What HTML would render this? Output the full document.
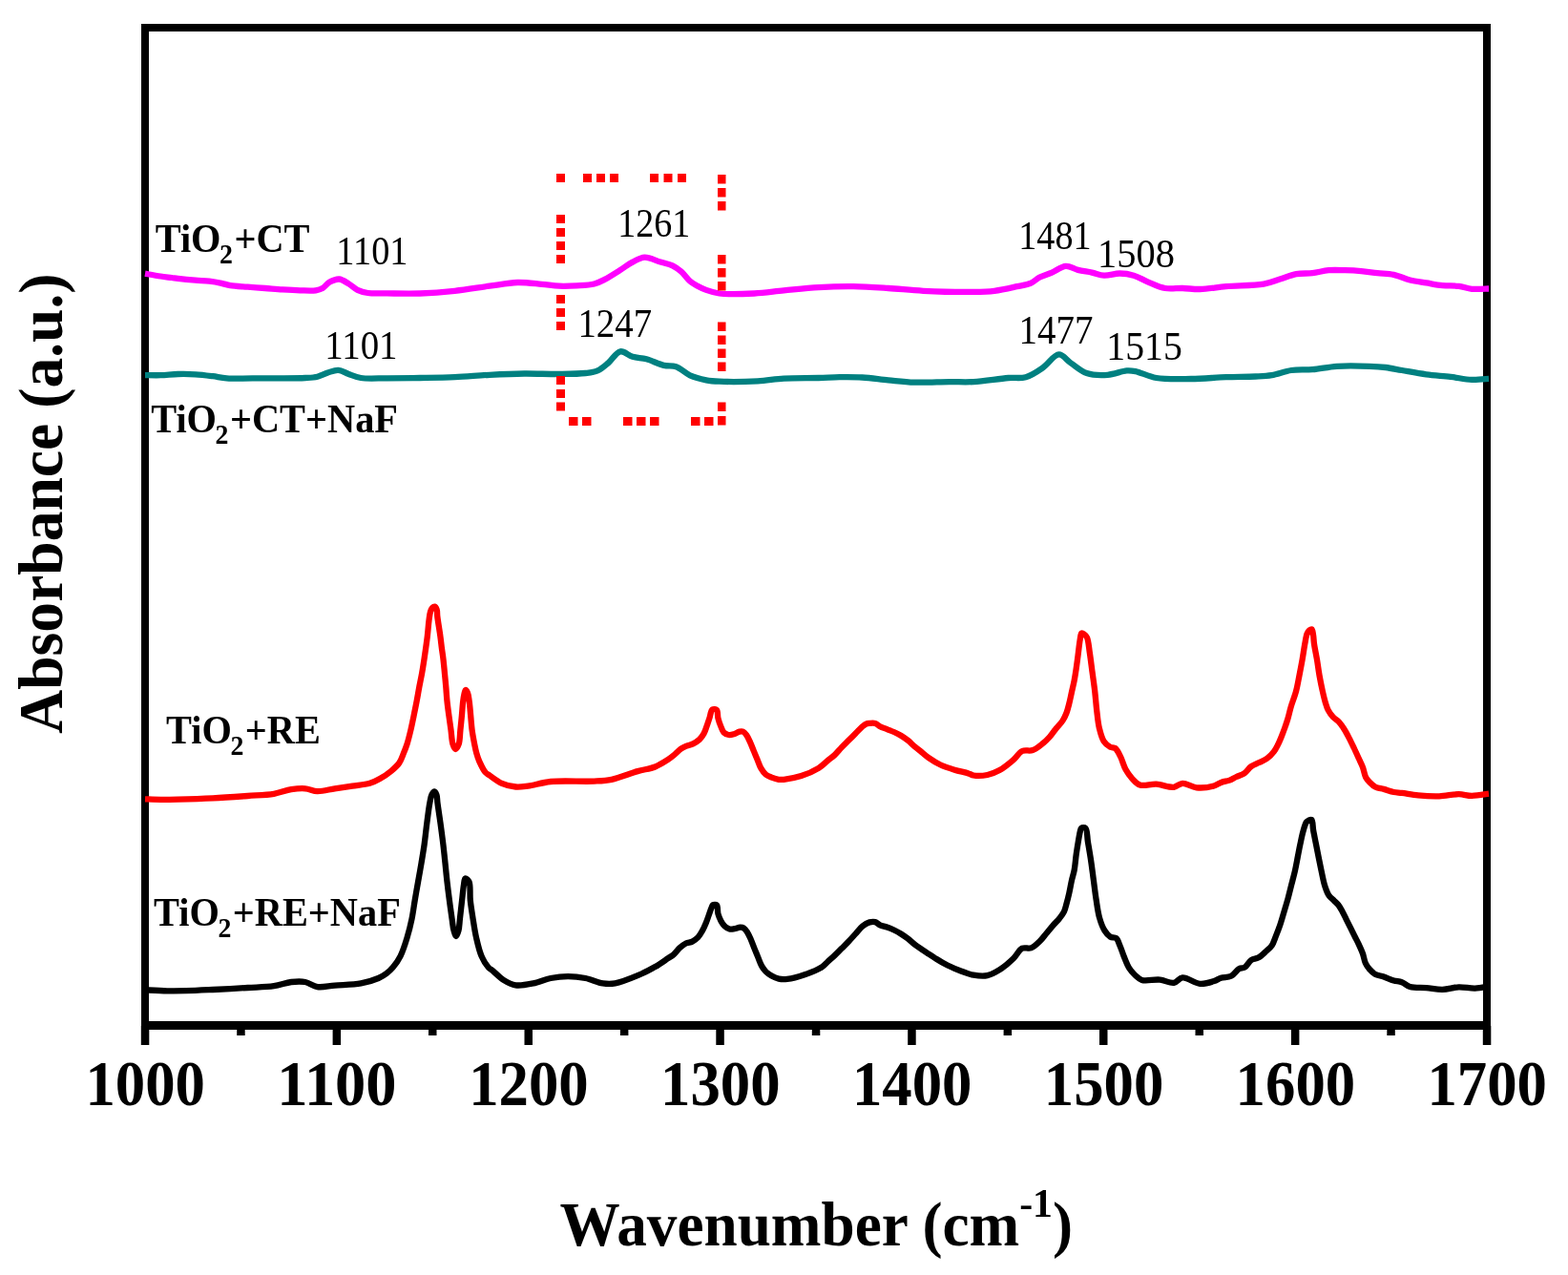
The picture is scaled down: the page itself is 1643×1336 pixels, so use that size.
<!DOCTYPE html><html><head><meta charset="utf-8"><style>html,body{margin:0;padding:0;background:#fff;overflow:hidden;width:1643px;height:1336px;}svg{display:block;}text{font-family:"Liberation Serif","Times New Roman",serif;}</style></head><body>
<svg width="1643" height="1336" viewBox="0 0 1643 1336">
<rect x="0" y="0" width="1643" height="1336" fill="#fff"/>
<rect x="148" y="25" width="1414" height="8" fill="#000"/>
<rect x="148" y="1070" width="1414" height="9" fill="#000"/>
<rect x="148" y="25" width="8" height="1054" fill="#000"/>
<rect x="1554" y="25" width="8" height="1054" fill="#000"/>
<rect x="147.8" y="1075" width="8.5" height="20" fill="#000"/>
<rect x="248.2" y="1075" width="8.5" height="10" fill="#000"/>
<rect x="348.6" y="1075" width="8.5" height="20" fill="#000"/>
<rect x="449.0" y="1075" width="8.5" height="10" fill="#000"/>
<rect x="549.5" y="1075" width="8.5" height="20" fill="#000"/>
<rect x="649.9" y="1075" width="8.5" height="10" fill="#000"/>
<rect x="750.3" y="1075" width="8.5" height="20" fill="#000"/>
<rect x="850.8" y="1075" width="8.5" height="10" fill="#000"/>
<rect x="951.2" y="1075" width="8.5" height="20" fill="#000"/>
<rect x="1051.6" y="1075" width="8.5" height="10" fill="#000"/>
<rect x="1152.0" y="1075" width="8.5" height="20" fill="#000"/>
<rect x="1252.5" y="1075" width="8.5" height="10" fill="#000"/>
<rect x="1352.9" y="1075" width="8.5" height="20" fill="#000"/>
<rect x="1453.3" y="1075" width="8.5" height="10" fill="#000"/>
<rect x="1553.8" y="1075" width="8.5" height="20" fill="#000"/>
<text transform="translate(89.48,1158.00) scale(0.6277,0.6667)" font-size="100" font-weight="bold" fill="#000">1000</text>
<text transform="translate(290.20,1158.00) scale(0.6448,0.6667)" font-size="100" font-weight="bold" fill="#000">1100</text>
<text transform="translate(491.19,1158.00) scale(0.6277,0.6667)" font-size="100" font-weight="bold" fill="#000">1200</text>
<text transform="translate(692.05,1158.00) scale(0.6277,0.6667)" font-size="100" font-weight="bold" fill="#000">1300</text>
<text transform="translate(892.91,1158.00) scale(0.6277,0.6667)" font-size="100" font-weight="bold" fill="#000">1400</text>
<text transform="translate(1093.76,1158.00) scale(0.6277,0.6667)" font-size="100" font-weight="bold" fill="#000">1500</text>
<text transform="translate(1294.62,1158.00) scale(0.6277,0.6667)" font-size="100" font-weight="bold" fill="#000">1600</text>
<text transform="translate(1495.48,1158.00) scale(0.6277,0.6667)" font-size="100" font-weight="bold" fill="#000">1700</text>
<path d="M152.00,286.70 C154.72,287.17 163.31,288.75 168.30,289.50 C172.52,290.13 176.67,290.56 180.00,291.00 C182.48,291.33 183.78,291.58 186.50,291.90 C191.05,292.44 199.04,293.24 204.80,293.70 C209.94,294.11 214.71,294.05 219.40,294.60 C223.82,295.11 228.31,295.96 232.20,296.80 C235.51,297.52 237.71,298.58 241.30,299.20 C246.29,300.06 253.42,300.23 259.50,300.70 C265.59,301.17 271.71,301.55 277.80,302.00 C283.88,302.45 289.92,303.02 296.00,303.40 C302.09,303.78 308.36,304.15 314.30,304.30 C319.94,304.44 326.47,304.98 330.80,304.30 C333.73,303.84 335.71,303.29 338.00,302.00 C340.61,300.54 342.56,297.18 345.40,295.60 C348.34,293.97 352.12,292.25 355.40,292.50 C358.79,292.76 362.20,295.52 365.40,297.40 C368.61,299.29 371.26,302.20 374.60,303.80 C377.96,305.41 381.26,306.35 385.50,307.00 C391.13,307.87 398.00,307.31 405.60,307.40 C415.54,307.51 428.37,307.91 440.00,307.50 C451.99,307.07 464.35,306.10 476.50,304.80 C488.69,303.50 501.51,301.23 513.00,299.70 C523.27,298.33 532.77,296.26 542.20,296.00 C551.00,295.75 560.00,297.12 567.80,297.80 C574.39,298.38 579.92,299.45 586.00,299.70 C592.08,299.95 598.21,299.67 604.30,299.30 C610.41,298.93 617.37,298.83 622.60,297.50 C626.79,296.43 629.57,294.91 633.50,292.90 C638.52,290.34 644.87,286.12 650.00,282.90 C654.56,280.04 658.42,276.83 662.80,274.60 C666.93,272.49 670.96,269.88 675.50,269.70 C680.61,269.50 686.86,273.09 692.00,274.60 C696.51,275.93 700.94,276.50 704.70,278.30 C708.16,279.95 710.98,282.14 713.90,284.70 C717.11,287.52 720.01,292.14 723.00,294.70 C725.36,296.71 727.40,297.86 730.00,299.30 C732.98,300.95 736.34,302.59 740.00,303.90 C744.15,305.39 747.97,306.76 753.70,307.50 C762.90,308.69 778.62,308.08 790.30,307.50 C801.08,306.96 810.54,305.42 821.30,304.40 C832.97,303.29 845.62,301.80 857.80,301.10 C869.96,300.40 882.14,300.05 894.30,300.20 C906.47,300.35 918.63,301.23 930.80,302.00 C943.00,302.77 954.09,304.15 967.40,304.80 C983.34,305.58 1006.25,306.10 1020.00,305.90 C1028.88,305.77 1034.49,305.70 1041.90,304.80 C1049.68,303.85 1058.66,301.72 1065.60,300.20 C1071.10,298.99 1076.12,298.44 1080.30,296.60 C1083.86,295.03 1086.00,292.26 1089.40,290.50 C1093.21,288.53 1097.83,287.45 1102.20,285.60 C1106.94,283.59 1112.05,279.09 1116.80,278.80 C1121.13,278.53 1125.07,281.78 1129.50,282.90 C1134.18,284.08 1139.49,284.59 1144.20,285.60 C1148.60,286.54 1152.37,288.46 1156.90,288.70 C1162.02,288.97 1168.07,286.45 1173.40,286.50 C1178.42,286.54 1183.23,287.29 1188.00,288.70 C1192.97,290.17 1197.43,293.18 1202.60,295.30 C1208.29,297.63 1214.63,300.90 1220.80,302.00 C1226.80,303.07 1233.00,301.83 1239.10,302.00 C1245.20,302.17 1250.70,303.16 1257.40,303.00 C1265.60,302.80 1274.76,301.02 1284.70,300.20 C1296.62,299.21 1313.77,299.55 1324.10,297.70 C1331.03,296.46 1335.43,294.35 1341.10,292.60 C1346.80,290.85 1352.44,288.28 1358.20,287.20 C1363.81,286.15 1369.55,286.76 1375.20,286.10 C1380.88,285.43 1386.50,283.68 1392.20,283.20 C1397.87,282.72 1403.61,283.05 1409.30,283.20 C1414.98,283.35 1420.63,283.62 1426.30,284.10 C1432.00,284.58 1437.71,285.48 1443.40,286.10 C1449.07,286.72 1454.79,286.60 1460.40,287.80 C1466.16,289.03 1471.75,292.06 1477.50,293.50 C1483.12,294.91 1488.83,295.47 1494.50,296.40 C1500.16,297.33 1505.81,298.52 1511.50,299.10 C1517.18,299.68 1523.25,299.21 1528.60,299.90 C1533.42,300.52 1537.33,302.33 1542.20,302.80 C1547.71,303.33 1557.03,302.55 1560.00,302.50" fill="none" stroke="#ff00ff" stroke-width="6.3" stroke-linejoin="round" stroke-linecap="butt"/>
<path d="M152.00,393.10 C154.72,393.12 162.72,393.37 168.30,393.20 C174.20,393.02 180.42,392.15 186.50,392.00 C192.59,391.85 198.72,391.93 204.80,392.30 C210.88,392.67 217.27,393.49 223.00,394.20 C228.14,394.84 231.51,395.86 237.60,396.30 C247.66,397.02 264.25,396.35 277.80,396.30 C291.65,396.25 309.85,396.54 319.80,396.00 C325.31,395.70 328.57,395.66 332.60,394.70 C336.44,393.78 339.82,391.66 343.50,390.50 C347.12,389.36 350.88,387.57 354.50,387.80 C358.18,388.03 361.60,390.68 365.40,392.00 C369.47,393.42 373.06,395.19 378.20,396.00 C385.55,397.16 395.95,396.29 405.60,396.30 C416.42,396.31 428.36,396.18 440.00,396.00 C451.99,395.82 464.34,395.73 476.50,395.20 C488.67,394.67 500.83,393.42 513.00,392.80 C525.16,392.18 537.33,391.63 549.50,391.50 C561.67,391.37 574.69,392.13 586.00,392.00 C595.82,391.89 606.11,391.88 613.50,391.00 C618.57,390.39 622.29,390.11 626.20,388.40 C630.20,386.65 633.50,383.57 637.20,380.50 C641.43,377.00 645.45,369.12 650.00,368.30 C654.04,367.57 658.31,372.47 662.80,373.80 C667.43,375.17 672.33,374.96 677.40,376.30 C683.20,377.83 689.99,381.62 695.60,382.90 C700.17,383.94 704.16,382.75 708.40,384.20 C713.30,385.88 717.78,390.96 723.00,393.30 C728.30,395.68 734.59,397.24 740.00,398.30 C744.77,399.24 747.92,399.43 753.70,399.70 C763.57,400.15 781.79,399.96 793.90,399.30 C803.92,398.76 811.50,397.16 821.30,396.60 C832.58,395.95 847.18,396.28 857.80,396.00 C866.03,395.78 872.25,395.29 879.70,395.20 C887.47,395.11 895.31,395.03 903.50,395.50 C912.30,396.01 921.69,397.45 930.80,398.30 C939.92,399.15 948.40,400.26 958.20,400.60 C969.49,401.00 983.64,400.18 994.70,400.10 C1003.90,400.04 1010.81,400.61 1020.00,400.10 C1031.07,399.48 1046.40,396.79 1056.50,396.00 C1063.63,395.44 1068.90,396.87 1074.80,395.20 C1081.09,393.42 1087.26,389.03 1093.00,385.10 C1098.83,381.11 1104.29,371.59 1109.50,371.40 C1113.95,371.24 1117.64,377.42 1122.20,380.50 C1127.30,383.94 1132.53,388.92 1138.70,391.00 C1145.24,393.20 1153.49,393.28 1160.60,392.80 C1167.48,392.34 1175.29,388.78 1180.70,388.40 C1184.30,388.15 1186.16,388.40 1189.80,389.10 C1195.57,390.22 1203.36,394.60 1211.70,396.00 C1222.22,397.77 1236.04,397.13 1248.20,397.00 C1260.37,396.87 1273.04,395.62 1284.70,395.20 C1295.43,394.81 1306.83,394.96 1315.60,394.50 C1322.11,394.16 1326.71,394.07 1332.60,393.10 C1339.16,392.02 1346.09,388.99 1353.10,388.00 C1360.28,386.99 1367.58,387.84 1375.20,387.20 C1383.44,386.51 1391.63,384.41 1400.80,383.80 C1411.33,383.10 1425.50,383.47 1434.90,383.80 C1441.55,384.03 1446.25,384.30 1451.90,385.00 C1457.58,385.70 1462.65,386.92 1468.90,388.00 C1476.56,389.32 1485.95,391.15 1494.50,392.30 C1503.01,393.45 1511.89,393.93 1520.10,394.90 C1527.75,395.81 1535.22,397.62 1542.20,397.90 C1548.44,398.15 1557.03,397.07 1560.00,396.90" fill="none" stroke="#008080" stroke-width="6.3" stroke-linejoin="round" stroke-linecap="butt"/>
<path d="M152.00,837.30 C154.72,837.38 162.72,837.75 168.30,837.80 C174.20,837.86 179.39,837.76 186.50,837.60 C196.57,837.38 210.84,837.00 223.00,836.40 C235.17,835.80 248.20,834.82 259.50,834.00 C269.32,833.28 278.83,833.15 287.00,831.80 C293.74,830.69 299.43,828.10 305.20,827.20 C310.30,826.41 315.12,825.94 319.80,826.30 C324.23,826.64 327.94,828.95 332.60,829.10 C338.12,829.27 344.72,827.22 350.80,826.30 C356.89,825.38 363.00,824.52 369.10,823.60 C375.20,822.68 382.22,822.34 387.40,820.80 C391.51,819.58 394.45,818.00 398.00,816.00 C401.97,813.77 406.50,810.71 410.00,807.80 C413.13,805.20 416.02,802.74 418.20,799.60 C420.40,796.42 421.66,792.26 423.10,788.80 C424.39,785.69 425.41,783.21 426.50,779.80 C427.87,775.49 429.22,769.89 430.40,764.90 C431.58,759.92 432.57,754.90 433.60,749.90 C434.63,744.90 435.65,739.90 436.60,734.90 C437.55,729.90 438.37,724.89 439.30,719.90 C440.23,714.92 441.32,709.98 442.20,705.00 C443.08,700.02 443.77,695.54 444.60,690.00 C445.62,683.13 446.95,674.01 447.80,666.90 C448.52,660.83 448.87,654.74 449.50,650.00 C449.96,646.52 450.23,643.36 451.00,641.00 C451.54,639.35 452.13,637.92 453.00,637.00 C453.70,636.27 454.76,635.44 455.50,635.60 C456.32,635.78 457.12,637.22 457.60,638.50 C458.30,640.35 457.92,642.88 458.30,646.00 C458.93,651.23 460.57,660.74 461.40,666.90 C462.06,671.77 462.47,675.93 463.00,680.00 C463.47,683.56 463.96,686.33 464.40,690.00 C464.94,694.49 465.42,700.01 465.90,705.00 C466.38,709.97 466.87,714.92 467.30,719.90 C467.73,724.89 467.98,729.91 468.50,734.90 C469.02,739.91 469.73,744.90 470.40,749.90 C471.07,754.90 471.82,759.91 472.50,764.90 C473.18,769.87 473.33,776.19 474.50,779.80 C475.23,782.06 476.28,784.96 477.30,785.00 C478.34,785.04 479.87,782.11 480.70,779.80 C481.99,776.22 481.87,769.88 482.40,764.90 C482.93,759.91 483.43,754.90 483.90,749.90 C484.37,744.90 484.67,739.10 485.20,734.90 C485.58,731.84 485.97,729.17 486.50,727.00 C486.88,725.42 487.19,723.10 487.80,723.00 C488.38,722.91 489.41,724.65 490.00,726.00 C490.92,728.11 491.21,731.54 491.70,734.90 C492.33,739.24 492.72,744.90 493.20,749.90 C493.68,754.90 493.93,759.92 494.60,764.90 C495.27,769.89 496.34,775.46 497.20,779.80 C497.87,783.18 498.36,785.81 499.20,788.80 C500.06,791.85 500.89,794.75 502.30,797.90 C503.95,801.60 506.58,807.03 508.80,809.50 C510.18,811.04 511.20,811.28 513.00,812.50 C516.09,814.60 521.22,818.80 525.80,820.80 C530.35,822.79 535.66,824.08 540.40,824.50 C544.77,824.89 548.30,824.24 553.20,823.60 C559.94,822.72 567.74,819.93 577.00,819.00 C589.70,817.73 610.84,819.23 622.60,818.60 C630.05,818.20 634.19,818.16 640.80,816.80 C649.08,815.09 659.95,810.44 668.20,808.10 C674.88,806.20 680.99,805.70 686.50,803.50 C691.49,801.51 696.46,798.21 700.00,795.90 C702.46,794.29 703.93,793.11 706.00,791.40 C708.41,789.41 711.02,786.29 713.50,784.60 C715.52,783.22 717.41,782.46 719.50,781.60 C721.64,780.72 724.04,780.46 726.20,779.40 C728.51,778.27 731.01,776.69 732.90,774.90 C734.72,773.17 736.16,771.10 737.40,768.90 C738.68,766.62 739.43,764.02 740.40,761.40 C741.44,758.57 742.39,755.47 743.40,752.50 C744.42,749.51 744.79,744.58 746.50,743.50 C747.68,742.75 749.99,743.04 751.00,744.00 C752.40,745.32 751.69,749.66 752.40,752.50 C753.14,755.46 754.30,758.76 755.40,761.40 C756.33,763.63 756.95,765.95 758.40,767.40 C759.75,768.75 761.81,769.70 763.60,770.00 C765.32,770.29 767.11,769.79 768.90,769.30 C770.88,768.75 773.11,767.07 774.90,766.70 C776.25,766.42 777.46,766.23 778.60,766.70 C779.96,767.26 781.17,768.84 782.30,770.40 C783.73,772.38 784.89,775.26 786.10,777.90 C787.40,780.74 788.55,783.90 789.80,786.90 C791.05,789.90 792.35,792.90 793.60,795.90 C794.85,798.90 795.74,802.21 797.30,804.90 C798.75,807.41 800.49,809.95 802.50,811.60 C804.28,813.06 806.35,813.75 808.50,814.60 C810.82,815.51 813.69,816.47 816.00,816.80 C817.90,817.07 819.02,817.03 821.30,816.80 C825.57,816.37 833.53,815.02 839.50,813.10 C845.70,811.11 852.86,807.98 857.80,804.90 C861.68,802.48 864.33,799.43 867.30,797.00 C869.89,794.88 872.25,793.32 874.60,791.10 C877.13,788.72 879.44,785.68 881.90,783.10 C884.30,780.58 886.77,778.23 889.20,775.80 C891.63,773.37 894.07,770.93 896.50,768.50 C898.93,766.07 901.71,762.96 903.80,761.20 C905.18,760.04 906.21,759.15 907.50,758.60 C908.66,758.11 909.75,758.03 911.10,757.90 C912.82,757.73 915.18,757.36 917.00,757.90 C918.85,758.45 920.19,760.22 922.10,761.20 C924.27,762.32 926.97,763.13 929.40,764.10 C931.83,765.07 934.29,765.91 936.70,767.00 C939.16,768.11 941.62,769.27 944.00,770.70 C946.49,772.19 948.92,773.91 951.30,775.80 C953.80,777.79 956.13,780.31 958.60,782.40 C961.00,784.44 963.47,786.25 965.90,788.20 C968.34,790.15 970.37,792.12 973.20,794.10 C976.72,796.55 981.19,799.42 985.60,801.50 C990.17,803.65 995.30,805.21 1000.20,806.70 C1005.03,808.17 1011.19,809.22 1014.80,810.40 C1017.00,811.12 1017.78,812.11 1020.00,812.50 C1023.59,813.13 1029.97,812.94 1034.60,812.00 C1039.09,811.09 1043.16,809.45 1047.40,807.10 C1052.30,804.39 1057.81,799.74 1062.00,796.10 C1065.51,793.05 1067.59,788.63 1071.10,787.00 C1074.35,785.49 1078.59,787.32 1082.10,786.10 C1085.92,784.77 1089.86,781.34 1093.00,778.80 C1095.70,776.61 1097.78,774.50 1100.00,772.00 C1102.36,769.33 1104.42,766.05 1106.70,763.20 C1108.93,760.42 1111.66,757.92 1113.50,755.10 C1115.20,752.50 1116.40,749.85 1117.50,747.00 C1118.65,744.03 1119.35,740.94 1120.20,737.60 C1121.16,733.83 1122.00,729.54 1122.90,725.50 C1123.80,721.44 1124.81,717.37 1125.60,713.30 C1126.38,709.27 1126.96,705.44 1127.60,701.20 C1128.30,696.52 1128.93,691.45 1129.60,686.40 C1130.30,681.12 1130.93,674.41 1131.70,670.20 C1132.20,667.47 1132.25,664.06 1133.30,663.50 C1133.98,663.14 1135.15,663.91 1136.00,664.50 C1137.08,665.25 1138.17,666.26 1139.00,668.00 C1140.54,671.24 1140.93,678.13 1141.80,683.70 C1142.78,690.00 1143.60,697.17 1144.50,703.90 C1145.40,710.63 1146.42,717.36 1147.20,724.10 C1147.98,730.83 1148.40,737.69 1149.20,744.30 C1149.98,750.71 1150.51,757.49 1151.90,763.20 C1153.10,768.14 1154.34,773.30 1156.60,776.70 C1158.40,779.39 1161.04,781.49 1163.30,782.70 C1165.08,783.66 1167.10,782.92 1168.70,784.10 C1170.87,785.71 1172.43,789.58 1174.10,792.90 C1176.08,796.83 1177.32,802.33 1179.50,806.30 C1181.46,809.87 1183.75,813.05 1186.30,815.80 C1188.71,818.40 1190.84,821.33 1194.30,822.50 C1198.77,824.01 1205.85,821.34 1211.70,821.70 C1217.74,822.07 1225.03,825.42 1230.00,824.80 C1233.64,824.35 1235.67,821.00 1239.10,820.80 C1243.35,820.55 1248.50,824.78 1253.70,825.30 C1259.40,825.87 1267.23,824.82 1272.00,823.50 C1275.31,822.58 1277.26,820.69 1280.00,819.70 C1282.69,818.73 1285.68,818.57 1288.30,817.60 C1290.84,816.66 1293.00,815.17 1295.50,814.00 C1298.15,812.76 1301.28,812.13 1303.80,810.40 C1306.48,808.56 1308.34,805.02 1311.00,803.10 C1313.53,801.27 1316.54,800.38 1319.30,799.00 C1322.07,797.62 1325.06,796.64 1327.60,794.80 C1330.25,792.88 1332.85,790.13 1334.80,787.60 C1336.57,785.31 1337.68,783.00 1339.00,780.40 C1340.46,777.51 1341.86,774.04 1343.10,771.00 C1344.24,768.19 1345.19,765.63 1346.20,762.80 C1347.26,759.81 1348.30,756.87 1349.30,753.50 C1350.47,749.57 1351.36,745.14 1352.70,740.60 C1354.23,735.42 1356.63,729.64 1358.10,724.10 C1359.55,718.64 1360.41,713.10 1361.50,707.60 C1362.58,702.13 1363.63,696.68 1364.60,691.20 C1365.57,685.71 1366.37,679.60 1367.30,674.70 C1368.05,670.74 1368.51,666.52 1369.60,664.00 C1370.28,662.43 1371.07,661.27 1372.00,660.50 C1372.75,659.88 1373.87,659.10 1374.50,659.40 C1375.42,659.84 1375.61,662.86 1376.00,665.00 C1376.51,667.77 1376.48,671.05 1377.00,674.70 C1377.68,679.49 1379.08,685.70 1380.00,691.20 C1380.91,696.67 1381.54,702.14 1382.50,707.60 C1383.47,713.10 1384.65,719.00 1385.80,724.10 C1386.80,728.54 1387.79,732.90 1388.90,736.50 C1389.78,739.37 1390.42,741.67 1391.70,744.10 C1393.05,746.65 1394.94,749.28 1396.90,751.40 C1398.76,753.42 1401.23,754.59 1403.10,756.60 C1405.05,758.70 1406.64,761.19 1408.30,763.80 C1410.12,766.65 1411.82,769.89 1413.50,773.10 C1415.25,776.45 1416.91,779.95 1418.60,783.50 C1420.35,787.18 1422.17,791.21 1423.80,794.80 C1425.28,798.05 1426.80,800.87 1428.00,804.10 C1429.24,807.43 1429.66,811.73 1431.10,814.50 C1432.22,816.66 1433.59,818.06 1435.20,819.70 C1436.97,821.51 1439.01,823.60 1441.40,824.80 C1443.91,826.06 1447.01,826.09 1450.00,826.90 C1453.31,827.80 1457.08,829.34 1460.40,830.00 C1463.35,830.59 1465.58,830.48 1468.90,830.90 C1473.62,831.49 1479.92,832.83 1486.00,833.40 C1492.88,834.04 1500.88,834.52 1508.10,834.30 C1515.07,834.09 1522.47,832.13 1528.60,832.20 C1533.60,832.26 1537.36,833.90 1542.20,833.90 C1547.73,833.90 1557.03,832.07 1560.00,831.70" fill="none" stroke="#ff0000" stroke-width="6.3" stroke-linejoin="round" stroke-linecap="butt"/>
<path d="M152.00,1037.30 C155.83,1037.47 167.60,1038.16 175.00,1038.30 C181.90,1038.43 187.78,1038.37 195.00,1038.20 C203.55,1038.00 213.05,1037.49 223.00,1037.00 C234.36,1036.45 248.19,1035.68 259.50,1035.00 C269.32,1034.41 278.82,1034.40 287.00,1033.20 C293.73,1032.21 299.43,1029.66 305.20,1029.00 C310.30,1028.42 315.17,1028.11 319.80,1029.00 C324.29,1029.86 327.87,1033.39 332.60,1034.10 C338.05,1034.91 344.11,1033.14 350.80,1032.60 C359.00,1031.93 370.05,1031.91 378.20,1030.40 C384.99,1029.14 391.66,1027.10 396.50,1025.00 C399.98,1023.49 402.43,1021.95 405.00,1020.00 C407.51,1018.10 409.60,1016.13 411.80,1013.50 C414.49,1010.29 417.30,1006.35 419.60,1001.80 C422.38,996.29 424.61,988.93 426.60,982.40 C428.57,975.96 430.15,969.43 431.50,962.90 C432.84,956.43 433.60,949.90 434.70,943.40 C435.80,936.90 436.97,930.39 438.10,923.90 C439.23,917.42 440.42,910.98 441.50,904.50 C442.58,898.01 443.65,891.78 444.60,885.00 C445.63,877.64 446.41,869.41 447.40,861.90 C448.35,854.73 449.34,846.30 450.40,840.90 C451.08,837.45 451.43,834.51 452.50,832.50 C453.23,831.13 454.37,829.44 455.20,829.50 C456.04,829.56 456.96,831.52 457.50,833.00 C458.24,835.04 457.98,837.64 458.40,840.90 C459.08,846.23 460.42,854.73 461.40,861.90 C462.42,869.41 463.52,877.62 464.40,885.00 C465.20,891.77 465.82,898.01 466.50,904.50 C467.18,910.97 467.77,917.43 468.50,923.90 C469.23,930.40 470.05,936.90 470.90,943.40 C471.75,949.90 472.75,957.18 473.60,962.90 C474.27,967.42 474.57,971.71 475.50,975.00 C476.18,977.40 477.17,981.00 478.00,981.00 C478.83,981.00 479.87,977.40 480.50,975.00 C481.36,971.72 481.38,967.41 481.90,962.90 C482.55,957.17 483.39,949.62 484.10,943.40 C484.75,937.70 485.27,931.21 486.00,927.00 C486.46,924.32 486.47,920.83 487.50,920.50 C488.41,920.20 490.55,922.07 491.50,924.00 C493.32,927.69 492.12,936.94 492.80,943.40 C493.48,949.90 494.57,956.41 495.60,962.90 C496.63,969.41 497.53,975.95 499.00,982.40 C500.49,988.91 502.10,996.28 504.50,1001.80 C506.48,1006.34 509.17,1010.76 511.60,1013.50 C513.27,1015.38 514.70,1015.86 516.70,1017.50 C519.67,1019.93 523.62,1024.32 527.60,1026.80 C531.53,1029.24 535.65,1031.58 540.40,1032.30 C545.86,1033.13 552.65,1031.60 558.70,1030.40 C564.86,1029.18 570.85,1026.22 577.00,1025.00 C583.02,1023.81 589.12,1023.10 595.20,1023.10 C601.29,1023.10 607.46,1023.80 613.50,1025.00 C619.63,1026.22 626.11,1029.59 631.70,1030.40 C636.29,1031.07 639.66,1031.21 644.50,1030.40 C651.28,1029.26 660.90,1025.26 668.20,1022.20 C674.79,1019.44 680.95,1016.29 686.50,1013.10 C691.44,1010.26 696.41,1006.61 700.00,1004.20 C702.41,1002.58 704.10,1001.77 706.00,1000.10 C708.12,998.24 709.83,995.36 712.00,993.40 C714.08,991.52 716.36,989.64 718.70,988.50 C720.84,987.45 723.31,987.62 725.40,986.60 C727.56,985.55 729.68,984.01 731.40,982.20 C733.20,980.31 734.54,977.83 735.90,975.40 C737.33,972.84 738.56,969.96 739.70,967.20 C740.82,964.49 741.70,961.74 742.70,959.00 C743.70,956.24 744.84,952.61 745.70,950.70 C746.18,949.64 746.26,948.74 747.00,948.30 C747.89,947.77 750.07,947.50 751.00,948.30 C752.41,949.51 751.62,954.64 752.40,957.50 C753.13,960.15 754.20,962.70 755.40,964.90 C756.48,966.88 757.58,968.76 759.10,970.20 C760.59,971.62 762.56,973.03 764.40,973.50 C766.08,973.93 767.82,973.47 769.60,973.20 C771.54,972.90 773.84,971.75 775.60,971.70 C776.98,971.66 778.16,971.74 779.30,972.40 C780.72,973.23 781.94,975.13 783.10,976.90 C784.48,979.01 785.61,981.71 786.80,984.40 C788.12,987.40 789.33,990.93 790.60,994.10 C791.83,997.16 793.05,1000.10 794.30,1003.10 C795.55,1006.10 796.61,1009.48 798.10,1012.10 C799.40,1014.39 800.77,1016.35 802.50,1018.10 C804.24,1019.85 806.30,1021.36 808.50,1022.60 C810.78,1023.88 813.34,1025.04 816.00,1025.60 C818.79,1026.19 821.43,1026.27 824.90,1025.90 C829.94,1025.36 837.19,1023.38 843.20,1021.30 C849.40,1019.15 857.26,1015.91 861.50,1013.10 C864.17,1011.33 865.25,1009.58 867.30,1007.70 C869.59,1005.60 872.20,1003.39 874.60,1001.10 C877.06,998.76 879.47,996.23 881.90,993.80 C884.33,991.37 886.80,989.02 889.20,986.50 C891.66,983.92 894.07,981.17 896.50,978.50 C898.93,975.83 901.19,972.57 903.80,970.50 C906.10,968.68 908.72,967.09 911.10,966.40 C913.10,965.82 915.18,965.61 917.00,966.10 C918.85,966.60 920.18,968.52 922.10,969.40 C924.25,970.38 926.99,970.66 929.40,971.50 C931.86,972.36 934.30,973.35 936.70,974.50 C939.17,975.68 941.61,977.01 944.00,978.50 C946.48,980.04 948.91,981.76 951.30,983.60 C953.78,985.51 956.12,987.89 958.60,989.80 C960.99,991.64 963.45,993.24 965.90,994.90 C968.32,996.54 970.81,998.14 973.20,999.70 C975.50,1001.20 977.35,1002.48 980.00,1004.10 C983.59,1006.29 988.40,1009.26 992.90,1011.50 C997.55,1013.81 1002.78,1015.95 1007.50,1017.70 C1011.79,1019.29 1015.62,1020.94 1020.00,1021.70 C1024.63,1022.50 1030.00,1023.14 1034.60,1022.20 C1039.12,1021.27 1043.16,1018.87 1047.40,1016.20 C1052.30,1013.12 1057.86,1008.34 1062.00,1004.30 C1065.57,1000.82 1067.66,995.35 1071.10,993.70 C1073.90,992.36 1077.36,994.47 1080.30,993.40 C1083.70,992.16 1087.19,988.54 1090.00,985.80 C1092.59,983.27 1094.45,980.40 1096.70,977.70 C1098.95,975.00 1101.22,972.22 1103.50,969.60 C1105.72,967.06 1108.23,964.68 1110.20,962.20 C1111.99,959.94 1113.68,957.91 1114.90,955.40 C1116.18,952.77 1116.74,949.77 1117.60,946.70 C1118.55,943.31 1119.44,939.71 1120.30,935.90 C1121.25,931.66 1122.05,926.64 1123.00,922.40 C1123.86,918.59 1124.96,915.59 1125.70,911.60 C1126.60,906.77 1126.98,900.54 1127.70,895.40 C1128.36,890.72 1129.08,886.22 1129.80,882.00 C1130.45,878.20 1131.11,873.77 1131.80,871.20 C1132.19,869.73 1132.15,868.40 1133.00,867.80 C1133.94,867.13 1136.38,866.85 1137.50,867.80 C1139.51,869.50 1139.04,876.85 1139.90,882.00 C1140.92,888.14 1142.20,895.46 1143.20,902.20 C1144.20,908.93 1145.00,915.67 1145.90,922.40 C1146.80,929.13 1147.56,935.99 1148.60,942.60 C1149.61,949.02 1150.37,955.80 1152.00,961.50 C1153.42,966.46 1155.17,971.43 1157.40,975.00 C1159.16,977.82 1161.25,980.38 1163.50,981.70 C1165.35,982.79 1167.89,981.84 1169.50,983.10 C1171.45,984.63 1172.32,988.27 1173.60,991.20 C1175.04,994.50 1176.10,998.32 1177.60,1002.00 C1179.21,1005.94 1180.81,1010.60 1183.00,1014.10 C1184.96,1017.23 1187.39,1019.99 1189.80,1022.20 C1191.92,1024.15 1193.51,1025.98 1196.50,1026.90 C1201.05,1028.30 1209.54,1025.99 1215.40,1026.60 C1220.61,1027.14 1225.82,1030.58 1230.00,1029.90 C1233.52,1029.33 1235.44,1024.78 1239.10,1024.40 C1244.05,1023.89 1251.59,1030.35 1257.40,1030.80 C1262.49,1031.19 1268.03,1029.34 1272.00,1028.10 C1274.92,1027.19 1276.58,1025.66 1279.30,1024.80 C1282.47,1023.80 1286.83,1024.38 1290.00,1022.80 C1293.26,1021.17 1295.77,1016.46 1298.50,1015.00 C1300.45,1013.96 1302.36,1014.70 1304.20,1013.60 C1306.67,1012.13 1308.69,1007.46 1311.30,1005.80 C1313.49,1004.41 1316.05,1004.87 1318.40,1003.60 C1321.28,1002.04 1324.47,998.80 1327.00,996.50 C1329.15,994.55 1331.12,993.14 1332.70,990.80 C1334.53,988.09 1335.53,984.33 1336.90,980.90 C1338.36,977.25 1339.83,973.53 1341.20,969.50 C1342.71,965.05 1344.08,960.04 1345.50,955.30 C1346.92,950.54 1348.40,945.77 1349.70,941.00 C1350.99,936.27 1352.10,931.53 1353.30,926.80 C1354.50,922.07 1355.83,917.35 1356.90,912.60 C1357.96,907.88 1358.77,903.14 1359.70,898.40 C1360.63,893.64 1361.52,888.73 1362.50,884.10 C1363.43,879.71 1364.26,875.26 1365.40,871.30 C1366.42,867.76 1367.58,863.21 1368.90,861.40 C1369.56,860.49 1370.17,860.19 1371.00,859.80 C1371.94,859.35 1373.47,858.45 1374.30,859.00 C1375.79,859.99 1375.40,866.03 1376.10,869.90 C1376.90,874.33 1377.97,879.36 1378.90,884.10 C1379.83,888.86 1380.75,893.64 1381.70,898.40 C1382.65,903.14 1383.55,907.76 1384.60,912.60 C1385.71,917.68 1386.73,923.63 1388.20,928.20 C1389.41,931.96 1390.57,935.47 1392.40,938.20 C1393.98,940.55 1396.33,942.13 1398.10,943.90 C1399.63,945.43 1401.07,946.49 1402.40,948.20 C1403.94,950.19 1405.23,952.80 1406.60,955.30 C1408.07,957.98 1409.47,960.97 1410.90,963.80 C1412.33,966.63 1413.78,969.45 1415.20,972.30 C1416.62,975.15 1417.98,978.05 1419.40,980.90 C1420.82,983.75 1422.31,986.43 1423.70,989.40 C1425.18,992.58 1426.81,996.04 1428.00,999.40 C1429.16,1002.67 1429.48,1006.45 1430.80,1009.30 C1431.94,1011.77 1433.42,1013.79 1435.10,1015.70 C1436.76,1017.59 1438.51,1019.43 1440.80,1020.70 C1443.38,1022.13 1446.86,1022.42 1450.00,1023.50 C1453.38,1024.66 1457.07,1026.53 1460.40,1027.50 C1463.34,1028.35 1466.13,1028.19 1468.90,1029.20 C1471.84,1030.27 1474.02,1032.88 1477.50,1033.90 C1482.09,1035.25 1488.84,1034.62 1494.50,1035.10 C1500.17,1035.58 1505.83,1036.93 1511.50,1036.80 C1517.20,1036.67 1522.90,1034.50 1528.60,1034.30 C1534.26,1034.10 1540.18,1035.80 1545.60,1035.60 C1550.61,1035.41 1557.60,1033.77 1560.00,1033.40" fill="none" stroke="#000000" stroke-width="6.3" stroke-linejoin="round" stroke-linecap="butt"/>
<rect x="583.0" y="182.0" width="9.0" height="9.0" fill="#ff0000"/>
<rect x="611.0" y="182.0" width="9.0" height="9.0" fill="#ff0000"/>
<rect x="625.0" y="182.0" width="9.0" height="9.0" fill="#ff0000"/>
<rect x="639.0" y="182.0" width="9.0" height="9.0" fill="#ff0000"/>
<rect x="681.0" y="182.0" width="9.0" height="9.0" fill="#ff0000"/>
<rect x="695.5" y="182.0" width="9.0" height="9.0" fill="#ff0000"/>
<rect x="710.0" y="182.0" width="9.0" height="9.0" fill="#ff0000"/>
<rect x="752.0" y="183.0" width="8.5" height="9.5" fill="#ff0000"/>
<rect x="752.0" y="197.0" width="8.5" height="9.5" fill="#ff0000"/>
<rect x="752.0" y="211.0" width="8.5" height="9.5" fill="#ff0000"/>
<rect x="752.0" y="267.0" width="8.5" height="9.5" fill="#ff0000"/>
<rect x="752.0" y="281.0" width="8.5" height="9.5" fill="#ff0000"/>
<rect x="752.0" y="295.0" width="8.5" height="9.5" fill="#ff0000"/>
<rect x="752.0" y="337.5" width="8.5" height="9.5" fill="#ff0000"/>
<rect x="752.0" y="351.5" width="8.5" height="9.5" fill="#ff0000"/>
<rect x="752.0" y="365.5" width="8.5" height="9.5" fill="#ff0000"/>
<rect x="752.0" y="379.5" width="8.5" height="9.5" fill="#ff0000"/>
<rect x="752.0" y="421.5" width="8.5" height="9.5" fill="#ff0000"/>
<rect x="752.0" y="436.0" width="8.5" height="9.5" fill="#ff0000"/>
<rect x="583.0" y="225.0" width="9.0" height="9.0" fill="#ff0000"/>
<rect x="583.0" y="239.0" width="9.0" height="9.0" fill="#ff0000"/>
<rect x="583.0" y="253.0" width="9.0" height="9.0" fill="#ff0000"/>
<rect x="583.0" y="267.0" width="9.0" height="9.0" fill="#ff0000"/>
<rect x="583.0" y="309.0" width="9.0" height="9.0" fill="#ff0000"/>
<rect x="583.0" y="323.0" width="9.0" height="9.0" fill="#ff0000"/>
<rect x="583.0" y="337.0" width="9.0" height="9.0" fill="#ff0000"/>
<rect x="583.0" y="394.0" width="9.0" height="9.0" fill="#ff0000"/>
<rect x="583.0" y="408.0" width="9.0" height="9.0" fill="#ff0000"/>
<rect x="583.0" y="421.5" width="9.0" height="9.0" fill="#ff0000"/>
<rect x="596.0" y="437.0" width="9.5" height="9.0" fill="#ff0000"/>
<rect x="610.0" y="437.0" width="9.5" height="9.0" fill="#ff0000"/>
<rect x="653.0" y="437.0" width="9.5" height="9.0" fill="#ff0000"/>
<rect x="667.0" y="437.0" width="9.5" height="9.0" fill="#ff0000"/>
<rect x="681.0" y="437.0" width="9.5" height="9.0" fill="#ff0000"/>
<rect x="724.0" y="437.0" width="9.5" height="9.0" fill="#ff0000"/>
<rect x="738.0" y="437.0" width="9.5" height="9.0" fill="#ff0000"/>
<text transform="translate(352.25,276.90) scale(0.3834,0.4227)" font-size="100" font-weight="normal" fill="#000">1101</text>
<text transform="translate(647.28,248.00) scale(0.3795,0.4258)" font-size="100" font-weight="normal" fill="#000">1261</text>
<text transform="translate(605.40,353.10) scale(0.3888,0.4258)" font-size="100" font-weight="normal" fill="#000">1247</text>
<text transform="translate(340.20,376.10) scale(0.3890,0.4258)" font-size="100" font-weight="normal" fill="#000">1101</text>
<text transform="translate(1067.27,261.20) scale(0.3816,0.4318)" font-size="100" font-weight="normal" fill="#000">1481</text>
<text transform="translate(1150.06,279.80) scale(0.4043,0.4288)" font-size="100" font-weight="normal" fill="#000">1508</text>
<text transform="translate(1067.50,359.90) scale(0.3894,0.4242)" font-size="100" font-weight="normal" fill="#000">1477</text>
<text transform="translate(1159.32,376.50) scale(0.3973,0.4212)" font-size="100" font-weight="normal" fill="#000">1515</text>
<text transform="translate(162.70,263.90) scale(0.9500,1)" font-size="42.50" font-weight="bold">TiO<tspan font-size="29.32" dx="-1.5" dy="11.90">2</tspan><tspan dx="1.5" dy="-11.90">+CT</tspan></text>
<text transform="translate(158.20,453.10) scale(0.9500,1)" font-size="42.50" font-weight="bold">TiO<tspan font-size="29.32" dx="-1.5" dy="11.90">2</tspan><tspan dx="1.5" dy="-11.90">+CT+NaF</tspan></text>
<text transform="translate(174.00,778.90) scale(0.9500,1)" font-size="42.50" font-weight="bold">TiO<tspan font-size="29.32" dx="-1.5" dy="11.90">2</tspan><tspan dx="1.5" dy="-11.90">+RE</tspan></text>
<text transform="translate(161.00,970.00) scale(0.9500,1)" font-size="42.50" font-weight="bold">TiO<tspan font-size="29.32" dx="-1.5" dy="11.90">2</tspan><tspan dx="1.5" dy="-11.90">+RE+NaF</tspan></text>
<text transform="translate(65.3,768.7) rotate(-90) scale(0.9637,1)" font-size="66" font-weight="bold">Absorbance (a.u.)</text>
<text transform="translate(586.5,1305) scale(0.9727,1)" font-size="65" font-weight="bold">Wavenumber (cm<tspan font-size="43" dy="-30">-1</tspan><tspan dy="30">)</tspan></text>
</svg></body></html>
